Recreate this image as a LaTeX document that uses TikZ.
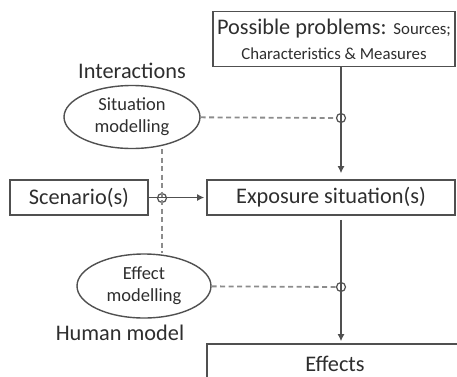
\documentclass[tikz,border=0pt]{standalone}
\usepackage{fontspec}
\setmainfont{Carlito}
\usetikzlibrary{arrows.meta,positioning,shapes.geometric,calc}
\definecolor{linegray}{HTML}{505050}
\definecolor{dashgray}{HTML}{8C8C8C}
\definecolor{textgray}{HTML}{2E2E2E}
\tikzset{
  block/.style={draw=linegray, line width=1.6pt, align=center, inner sep=2pt,
    text=textgray, font=\fontsize{22.3}{26}\selectfont},
  model/.style={ellipse, draw=linegray, line width=1.4pt, align=center, inner sep=0pt,
    text=textgray, font=\fontsize{18.5}{22}\selectfont},
  tag/.style={text=textgray, font=\fontsize{22.3}{26}\selectfont, inner sep=0pt},
  joint/.style={circle, draw=linegray, line width=1.2pt, minimum size=9pt, inner sep=0pt},
  arr/.style={-{Latex[length=7pt,width=7pt]}, line width=1.5pt, draw=linegray},
  darr/.style={dash pattern=on 5pt off 3.5pt, line width=1.8pt, draw=dashgray}
}

\begin{document}
\begin{tikzpicture}[x=1pt, y=-1pt]
  \useasboundingbox (0,0) rectangle (457,376);
  \clip (0,0) rectangle (457,376);

  \node[block, minimum width=242pt, minimum height=55pt] (prob) at (334,39)
    {Possible problems: {\fontsize{16.8}{20}\selectfont Sources;}\\[-1pt]{\fontsize{16.8}{20}\selectfont Characteristics \& Measures}};
  \node[block, minimum width=248pt, minimum height=35pt] (expo) at (331,197.5) {Exposure situation(s)};
  \node[block, minimum width=256pt, minimum height=40pt] (eff) at (335,364) {Effects};
  \node[block, minimum width=138pt, minimum height=35pt] (scen) at (79,197.5) {Scenario(s)};

  \node[model, minimum width=136pt, minimum height=63pt] (sitmod) at (132,117) {Situation\\modelling};
  \node[model, minimum width=134pt, minimum height=64pt] (effmod) at (144,286) {Effect\\modelling};
  \node[tag, above=6pt of sitmod] (inter) {Interactions};
  \node[tag, below=6pt of effmod, xshift=-24pt] (human) {Human model};

  \node[joint] (j1) at (341,118) {};
  \node[joint] (j2) at (162,198) {};
  \node[joint] (j3) at (341,287) {};

  \draw[arr, shorten >=6pt] (prob.south -| j1) -- (expo.north -| j1);
  \draw[arr, shorten <=4pt, shorten >=2pt] (expo.south -| j3) -- (eff.north -| j3);
  \draw[arr, shorten >=2pt] (scen) -- (expo);
  \draw[darr] (sitmod) -- (j1);
  \draw[darr] (effmod) -- (j3);
  \draw[darr] (sitmod.south -| j2) -- (effmod.north -| j2);
\end{tikzpicture}
\end{document}
